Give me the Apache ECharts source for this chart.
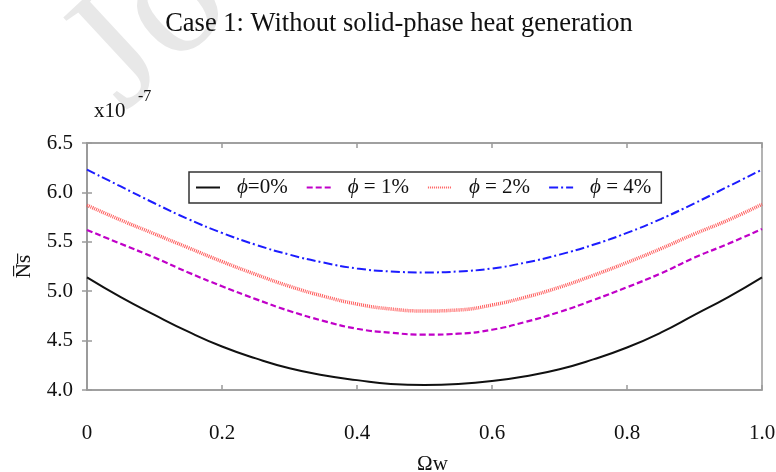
<!DOCTYPE html>
<html>
<head>
<meta charset="utf-8">
<script src="https://cdn.jsdelivr.net/npm/echarts@6/dist/echarts.min.js"></script>
<style>html,body{margin:0;padding:0;background:#fff;}#c{width:776px;height:472px;}</style>
</head>
<body>
<div id="c"></div>
<script>
// Data
const omegaW = [0, 0.05, 0.1, 0.15, 0.2, 0.25, 0.3, 0.35, 0.4, 0.45, 0.5,
                0.55, 0.6, 0.65, 0.7, 0.75, 0.8, 0.85, 0.9, 0.95, 1.0];
const phi0 = [5.14, 4.94, 4.76, 4.59, 4.44, 4.32, 4.22, 4.15, 4.10, 4.06, 4.05,
              4.06, 4.09, 4.14, 4.21, 4.31, 4.43, 4.58, 4.76, 4.94, 5.14];
const phi1 = [5.62, 5.48, 5.34, 5.19, 5.05, 4.92, 4.80, 4.70, 4.62, 4.58, 4.56,
              4.57, 4.61, 4.69, 4.79, 4.91, 5.04, 5.18, 5.34, 5.48, 5.63];
const phi2 = [5.87, 5.72, 5.58, 5.44, 5.30, 5.17, 5.05, 4.95, 4.87, 4.82, 4.80,
              4.81, 4.86, 4.94, 5.04, 5.16, 5.29, 5.43, 5.58, 5.72, 5.88];
const phi4 = [6.23, 6.06, 5.89, 5.73, 5.59, 5.47, 5.37, 5.29, 5.23, 5.20, 5.19,
              5.20, 5.23, 5.29, 5.37, 5.47, 5.59, 5.73, 5.89, 6.06, 6.23];
const seriesNames = ['φ0', 'φ1', 'φ2', 'φ4'];
const legendLabels = {'φ0': ['ϕ', '=0%'], 'φ1': ['ϕ', ' = 1%'], 'φ2': ['ϕ', ' = 2%'], 'φ4': ['ϕ', ' = 4%']};
const titleText = 'Case 1: Without solid-phase heat generation';
const xName = 'Ωw';
const yName = 'N\u0305s\u0305';
const watermark = 'Journal';

const serif = '"Liberation Serif", "Times New Roman", "DejaVu Serif", serif';
const pts = a => a.map((v, i) => [omegaW[i], v]);

const chart = echarts.init(document.getElementById('c'), null, {renderer: 'canvas'});
const axisLineStyle = {color: '#9a9a9a', width: 1.5};
const option = {
  backgroundColor: '#fff',
  animation: false,
  graphic: [
    {type: 'text', z: -10, x: 152, y: 142, rotation: Math.PI / 4.2,
     style: {text: watermark, font: 'normal 170px ' + serif, fill: '#e8e8e8',
             textVerticalAlign: 'bottom'}}
  ],
  title: [
    {text: titleText, left: 394, top: 6, textAlign: 'center',
     textStyle: {fontFamily: serif, fontSize: 26.5, fontWeight: 'normal', color: '#111'}},
    {text: 'x10', left: 89, top: 96,
     textStyle: {fontFamily: serif, fontSize: 21, fontWeight: 'normal', color: '#111'}},
    {text: '-7', left: 133, top: 84,
     textStyle: {fontFamily: serif, fontSize: 16, fontWeight: 'normal', color: '#111'}}
  ],
  grid: {left: 87, right: 14, top: 143, bottom: 82, show: true, borderColor: '#9a9a9a', borderWidth: 1.5,
         outerBoundsMode: 'none', containLabel: false},
  legend: {
    data: seriesNames,
    left: 189, top: 172,
    padding: [5, 10, 5, 6],
    borderColor: '#333', borderWidth: 1.5,
    itemWidth: 24, itemHeight: 14, itemGap: 18,
    itemStyle: {opacity: 0},
    formatter: n => '{i|' + legendLabels[n][0] + '}{t|' + legendLabels[n][1] + '}',
    textStyle: {
      fontFamily: serif, fontSize: 21, color: '#111',
      rich: {
        i: {fontFamily: serif, fontSize: 21, fontStyle: 'italic', color: '#111', padding: [0, 0, 0, 12]},
        t: {fontFamily: serif, fontSize: 21, color: '#111'}
      }
    }
  },
  xAxis: [
    {type: 'value', min: 0, max: 1, interval: 0.2, position: 'bottom',
     name: xName, nameLocation: 'middle', nameGap: 64,
     nameTextStyle: {fontFamily: serif, fontSize: 21, color: '#111', padding: [0, 0, 0, 16]},
     axisLine: {show: true, lineStyle: axisLineStyle},
     axisTick: {show: true, inside: true, length: 5, lineStyle: axisLineStyle},
     splitLine: {show: false},
     axisLabel: {margin: 33, fontFamily: serif, fontSize: 21, color: '#111',
       formatter: v => v === 0 ? '0' : v.toFixed(1)}},
    {type: 'value', min: 0, max: 1, interval: 0.2, position: 'top',
     axisLine: {show: true, lineStyle: axisLineStyle},
     axisTick: {show: true, inside: true, length: 5, lineStyle: axisLineStyle},
     splitLine: {show: false}, axisLabel: {show: false}}
  ],
  yAxis: [
    {type: 'value', min: 4.0, max: 6.5, interval: 0.5, position: 'left',
     name: yName, nameLocation: 'middle', nameGap: 52, nameRotate: 90,
     nameTextStyle: {fontFamily: serif, fontSize: 21, color: '#111'},
     axisLine: {show: true, lineStyle: axisLineStyle},
     axisTick: {show: true, inside: true, length: 5, lineStyle: axisLineStyle},
     splitLine: {show: false},
     axisLabel: {margin: 14, fontFamily: serif, fontSize: 21, color: '#111',
       formatter: v => v.toFixed(1)}},
    {type: 'value', min: 4.0, max: 6.5, interval: 0.5, position: 'right',
     axisLine: {show: true, lineStyle: axisLineStyle},
     axisTick: {show: true, inside: true, length: 5, lineStyle: axisLineStyle},
     splitLine: {show: false}, axisLabel: {show: false}}
  ],
  series: [
    {name: 'φ0', type: 'line', data: pts(phi0), smooth: 0.5, symbol: 'none',
     lineStyle: {color: '#111', width: 2, type: 'solid'}, itemStyle: {color: '#111'}},
    {name: 'φ1', type: 'line', data: pts(phi1), smooth: 0.5, symbol: 'none',
     lineStyle: {color: '#c000c8', width: 2.2, type: [6, 3]}, itemStyle: {color: '#c000c8'}},
    {name: 'φ2', type: 'line', data: pts(phi2), smooth: 0.5, symbol: 'none',
     lineStyle: {color: '#ff5c5c', width: 3.5, type: [1, 1]}, itemStyle: {color: '#ff5c5c'}},
    {name: 'φ4', type: 'line', data: pts(phi4), smooth: 0.5, symbol: 'none',
     lineStyle: {color: '#1c1cff', width: 2, type: [9, 3, 2, 3]}, itemStyle: {color: '#1c1cff'}}
  ]
};
chart.setOption(option);
</script>
</body>
</html>
